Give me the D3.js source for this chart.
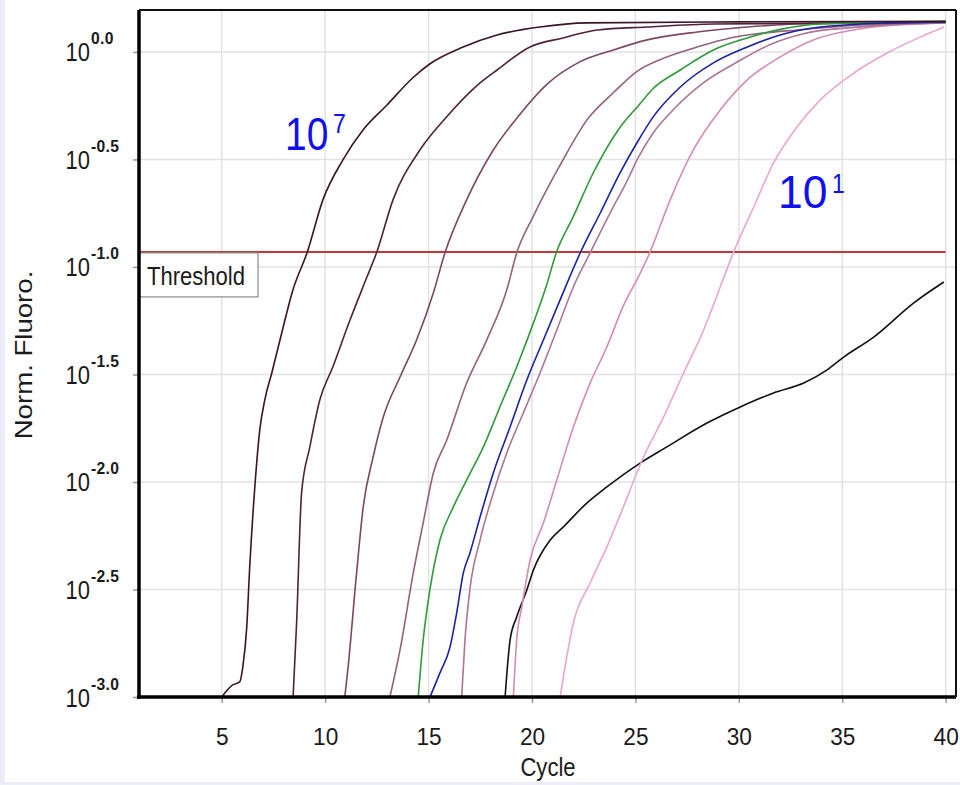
<!DOCTYPE html>
<html><head><meta charset="utf-8">
<script src="https://cdn.jsdelivr.net/npm/d3@7"></script>
<style>
html,body{margin:0;padding:0;background:#ededf9;}
svg{display:block;}
text{font-family:"Liberation Sans",Arial,sans-serif;}
</style></head>
<body>
<svg id="c" width="960" height="785"></svg>
<script>
// ---- data (cycle, log10 of Norm. Fluoro.) ----
const xTicks = [5,10,15,20,25,30,35,40];
const yTickExps = [0,-0.5,-1,-1.5,-2,-2.5,-3];
const yTickLabels = ["0.0","-0.5","-1.0","-1.5","-2.0","-2.5","-3.0"];
const thresholdExp = -0.93;

const s1e7 = [[5.0,-3.0],[5.53,-2.944],[5.87,-2.93],[6.02,-2.86],[6.21,-2.674],[6.35,-2.40],[6.6,-2.023],[6.84,-1.758],[7.08,-1.619],[7.42,-1.493],[7.9,-1.307],[8.44,-1.107],[9.14,-0.93],[9.89,-0.688],[10.86,-0.502],[11.83,-0.363],[12.99,-0.247],[14.24,-0.12],[15.07,-0.055],[16.67,0.023],[18.31,0.079],[20.39,0.116],[22.66,0.135],[30,0.14],[40,0.142]];
const s1e6 = [[8.45,-3.0],[8.62,-2.656],[8.86,-2.051],[9.26,-1.837],[9.74,-1.619],[10.37,-1.465],[11.2,-1.247],[12.02,-1.047],[12.5,-0.93],[13.28,-0.688],[14.58,-0.456],[15.89,-0.3],[17.49,-0.144],[18.31,-0.084],[19.9,0.023],[21.5,0.065],[23.15,0.102],[25.57,0.116],[28.76,0.13],[40,0.138]];
const s1e5 = [[10.95,-3.0],[11.11,-2.86],[11.52,-2.423],[11.84,-2.116],[12.32,-1.884],[12.81,-1.698],[13.62,-1.512],[14.42,-1.34],[15.23,-1.121],[15.79,-0.935],[16.84,-0.688],[18.13,-0.456],[19.42,-0.29],[20.73,-0.15],[22.33,-0.045],[23.93,0.009],[25.57,0.056],[27.99,0.093],[30.41,0.116],[32.83,0.13],[40,0.14]];
const s1e4 = [[13.13,-3.0],[13.62,-2.781],[14.26,-2.423],[14.74,-2.19],[15.23,-1.958],[15.88,-1.805],[16.84,-1.54],[17.81,-1.34],[18.78,-1.107],[19.26,-0.935],[20.05,-0.767],[21.5,-0.502],[22.66,-0.316],[23.92,-0.191],[25.08,-0.09],[26.34,-0.03],[27.99,0.023],[29.59,0.065],[31.19,0.088],[32.83,0.102],[35,0.12],[40,0.138]];
const sGreen = [[14.5,-3.0],[14.74,-2.735],[15.07,-2.498],[15.55,-2.27],[16.2,-2.116],[16.84,-1.991],[17.65,-1.837],[18.45,-1.651],[19.26,-1.465],[20.07,-1.26],[20.72,-1.08],[21.17,-0.935],[21.99,-0.767],[22.96,-0.563],[24.27,-0.349],[25.09,-0.256],[25.86,-0.17],[27.17,-0.084],[28.77,0.009],[30.41,0.065],[32.0,0.105],[33.94,0.13],[40,0.142]];
const sBlue = [[15.07,-3.0],[15.55,-2.888],[16.04,-2.767],[16.36,-2.609],[16.68,-2.423],[17.0,-2.33],[17.49,-2.163],[18.13,-1.958],[18.94,-1.744],[19.75,-1.526],[20.55,-1.34],[21.36,-1.153],[22.33,-0.935],[23.3,-0.749],[24.27,-0.56],[25.09,-0.42],[25.86,-0.302],[27.17,-0.163],[28.77,-0.051],[30.41,0.023],[32.0,0.079],[33.94,0.116],[37.18,0.135],[40,0.14]];
const s1e3 = [[16.6,-3.0],[16.76,-2.735],[17.0,-2.498],[17.49,-2.27],[18.13,-2.051],[18.78,-1.865],[19.58,-1.679],[20.39,-1.493],[21.2,-1.293],[22.0,-1.093],[22.81,-0.935],[23.93,-0.721],[24.6,-0.6],[25.09,-0.5],[25.86,-0.377],[26.68,-0.284],[28.28,-0.144],[29.92,-0.047],[31.52,0.035],[33.12,0.085],[35.54,0.114],[37.18,0.126],[40,0.135]];
const s1e2 = [[19.1,-3.0],[19.26,-2.735],[19.51,-2.581],[19.91,-2.363],[20.55,-2.191],[21.2,-1.991],[22.0,-1.744],[22.81,-1.54],[23.62,-1.372],[24.42,-1.18],[25.23,-1.03],[25.71,-0.93],[26.68,-0.688],[27.8,-0.456],[29.1,-0.27],[30.41,-0.13],[32.0,-0.023],[33.6,0.056],[35.54,0.102],[36.5,0.116],[40,0.135]];
const s1e1 = [[21.36,-3.0],[21.68,-2.814],[22.0,-2.656],[22.81,-2.47],[23.62,-2.302],[24.42,-2.116],[25.39,-1.884],[26.36,-1.698],[27.33,-1.493],[28.3,-1.293],[29.1,-1.093],[29.75,-0.93],[30.72,-0.721],[31.68,-0.516],[32.81,-0.349],[33.94,-0.223],[35.56,-0.098],[37.17,-0.005],[38.79,0.07],[39.92,0.116]];
const sBlack = [[18.7,-3.0],[18.94,-2.735],[19.26,-2.628],[19.75,-2.502],[20.07,-2.409],[20.88,-2.27],[21.52,-2.209],[22.65,-2.098],[23.62,-2.023],[25.23,-1.912],[26.52,-1.837],[28.46,-1.726],[30.07,-1.651],[31.68,-1.586],[33.14,-1.54],[34.27,-1.479],[35.07,-1.419],[36.52,-1.326],[38.46,-1.167],[39.91,-1.07]];

const seriesList = [sBlack, s1e1, s1e2, s1e3, s1e4, s1e5, s1e6, sGreen, sBlue, s1e7];
const seriesColors = ["#111111","#eba6cf","#d38cb8","#ad7597","#93607f","#7a4765","#4f2238","#2f9a3a","#1c22a8","#3b1428"];

// ---- layout ----
const svg = d3.select("#c");
svg.append("rect").attr("x",5).attr("y",0).attr("width",955).attr("height",782).attr("fill","#ffffff");

const L = 139, R = 956, T = 10, B = 697;
const x = d3.scaleLinear().domain([1, 40.5]).range([L, R]);
const y = d3.scaleLinear().domain([-3, 0.195]).range([B, T]);

function stretchText(g, px, py, str, size, anchor, sx, sy, color){
  return g.append("text")
    .attr("transform", `translate(${px},${py}) scale(${sx},${sy})`)
    .attr("text-anchor", anchor)
    .attr("font-size", size)
    .attr("fill", color || "#111")
    .text(str);
}

// gridlines
const grid = svg.append("g");
grid.selectAll("line.v").data(xTicks).join("line")
  .attr("x1", d=>x(d)).attr("x2", d=>x(d)).attr("y1", T).attr("y2", B)
  .attr("stroke","#e2e2e2").attr("stroke-width",1.5);
grid.selectAll("line.h").data(yTickExps.filter(d=>d>-3)).join("line")
  .attr("x1", L).attr("x2", R).attr("y1", d=>y(d)).attr("y2", d=>y(d))
  .attr("stroke","#e2e2e2").attr("stroke-width",1.5);

// x axis
const xa = svg.append("g").attr("transform",`translate(0,${B})`)
  .call(d3.axisBottom(x).tickValues(xTicks).tickSize(6).tickFormat(""));
xa.select(".domain").remove();
xa.selectAll(".tick line").attr("stroke","#999").attr("stroke-width",1.5);
xa.selectAll(".tick").each(function(d){
  stretchText(d3.select(this), 0, 48, String(d), 21, "middle", 1.08, 1.15, "#1a1a1a");
});

// y axis
const ya = svg.append("g").attr("transform",`translate(${L},0)`)
  .call(d3.axisLeft(y).tickValues(yTickExps).tickSize(6).tickFormat(""));
ya.select(".domain").remove();
ya.selectAll(".tick line").attr("stroke","#999").attr("stroke-width",1.5);
ya.selectAll(".tick").each(function(d,i){
  const g = d3.select(this);
  stretchText(g, -49, 9, "10", 22, "end", 1.0, 1.2, "#1a1a1a");
  stretchText(g, -48, -8, yTickLabels[i], 14, "start", 1.12, 1.2, "#1a1a1a").attr("font-weight","bold").attr("letter-spacing",0.3);
});

// threshold
svg.append("line").attr("x1", x(1)).attr("x2", x(40)).attr("y1", y(thresholdExp)).attr("y2", y(thresholdExp))
  .attr("stroke","#c0393a").attr("stroke-width",2);

// curves
svg.append("clipPath").attr("id","pc").append("rect")
  .attr("x",L).attr("y",T).attr("width",R-L).attr("height",B-T);
const line = d3.line().x(d=>x(d[0])).y(d=>y(d[1])).curve(d3.curveMonotoneX);
svg.append("g").attr("clip-path","url(#pc)")
  .selectAll("path").data(seriesList).join("path")
  .attr("d", line).attr("fill","none")
  .attr("stroke", (d,i)=>seriesColors[i]).attr("stroke-width",1.6);

// threshold label box
const ty = y(thresholdExp);
svg.append("rect").attr("x", L).attr("y", ty+1).attr("width", 119).attr("height", 44)
  .attr("fill","#ffffff").attr("stroke","#8a8a8a").attr("stroke-width",1.2);
stretchText(svg, L+8, ty+33, "Threshold", 21, "start", 1.05, 1.2, "#1a1a1a");

// frame
svg.append("line").attr("x1",L).attr("x2",L).attr("y1",T).attr("y2",B+2).attr("stroke","#000").attr("stroke-width",3.5);
svg.append("line").attr("x1",L-2).attr("x2",R).attr("y1",B).attr("y2",B).attr("stroke","#000").attr("stroke-width",3.5);
svg.append("line").attr("x1",L).attr("x2",R).attr("y1",T).attr("y2",T).attr("stroke","#111").attr("stroke-width",2);
svg.append("line").attr("x1",R).attr("x2",R).attr("y1",T).attr("y2",B).attr("stroke","#111").attr("stroke-width",2);

// axis titles
stretchText(svg, 548, 776, "Cycle", 21, "middle", 1.05, 1.2, "#1a1a1a");
svg.append("text").attr("transform","translate(32,355) rotate(-90) scale(1.2,1)")
  .attr("text-anchor","middle").attr("font-size",23).attr("fill","#1a1a1a").text("Norm. Fluoro.");

// annotations
const ann = svg.append("g");
stretchText(ann, 285, 150, "10", 39, "start", 1.0, 1.2, "#1010ee");
stretchText(ann, 333, 133, "7", 23, "start", 1.0, 1.2, "#1010ee");
stretchText(ann, 778, 208, "10", 39, "start", 1.14, 1.2, "#1010ee");
stretchText(ann, 832, 193, "1", 23, "start", 1.0, 1.2, "#1010ee");
</script>
</body></html>
